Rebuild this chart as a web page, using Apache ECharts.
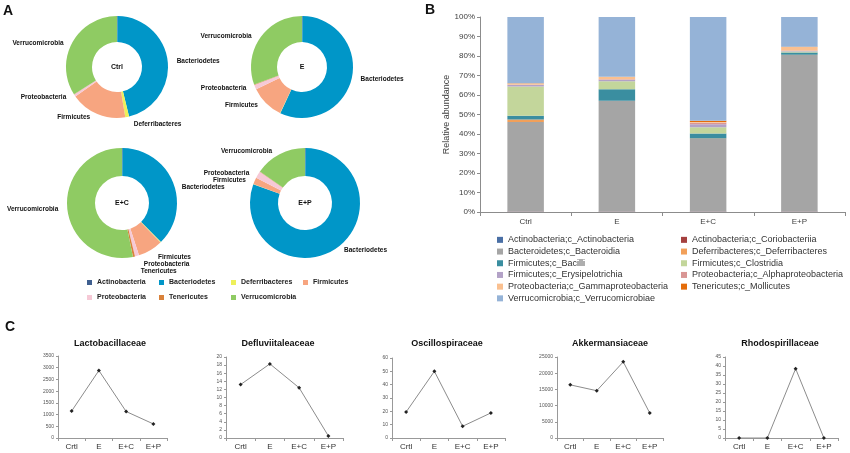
<!DOCTYPE html>
<html>
<head>
<meta charset="utf-8">
<script src="https://cdn.jsdelivr.net/npm/echarts@6/dist/echarts.min.js"></script>
<style>
html,body{margin:0;padding:0;background:#fff;}
#main{width:850px;height:453px;}
</style>
</head>
<body>
<div id="main"></div>
<script>
// ---------- Panel A data (phylum level, %) ----------
const pieGroups = ['Ctrl', 'E', 'E+C', 'E+P'];
const phyla = ['Actinobacteria', 'Bacteriodetes', 'Deferribacteres', 'Firmicutes', 'Proteobacteria', 'Tenericutes', 'Verrucomicrobia'];
const phylumColors = ['#3f5f8f', '#0096c8', '#eef05a', '#f7a580', '#f6c9d6', '#d9823b', '#8fcb63'];
const pieCtrl = [0.2, 46.0, 1.2, 17.8, 0.7, 0.1, 34.0];
const pieE = [0.2, 56.8, 0.1, 10.7, 1.5, 0.1, 30.6];
const pieEC = [0.2, 37.3, 0.2, 7.3, 1.2, 0.6, 53.2];
const pieEP = [0.2, 80.3, 0.1, 2.0, 2.0, 0.1, 15.3];

// ---------- Panel B data (class level, %) ----------
const barCategories = ['Ctrl', 'E', 'E+C', 'E+P'];
const classNames = [
  'Actinobacteria;c_Actinobacteria', 'Actinobacteria;c_Coriobacteriia',
  'Bacteroidetes;c_Bacteroidia', 'Deferribacteres;c_Deferribacteres',
  'Firmicutes;c_Bacilli', 'Firmicutes;c_Clostridia',
  'Firmicutes;c_Erysipelotrichia', 'Proteobacteria;c_Alphaproteobacteria',
  'Proteobacteria;c_Gammaproteobacteria', 'Tenericutes;c_Mollicutes',
  'Verrucomicrobia;c_Verrucomicrobiae'
];
const classColors = ['#4a6fa5', '#a5403f', '#a5a5a5', '#f2a05a', '#3a8ea0', '#c3d69b', '#b3a2c7', '#d99694', '#fac090', '#e46c0a', '#95b3d7'];
const cActinobacteria = [0.1, 0.1, 0.1, 0.1];
const cCoriobacteriia = [0.1, 0.1, 0.1, 0.1];
const cBacteroidia = [46.0, 56.8, 37.3, 80.3];
const cDeferribacteres = [1.2, 0.1, 0.2, 0.1];
const cBacilli = [2.0, 5.9, 2.5, 1.2];
const cClostridia = [15.0, 4.0, 3.3, 0.5];
const cErysipelotrichia = [0.8, 0.8, 1.5, 0.3];
const cAlphaproteobacteria = [0.1, 0.3, 0.8, 0.2];
const cGammaproteobacteria = [0.6, 1.2, 0.4, 1.8];
const cMollicutes = [0.1, 0.1, 0.6, 0.1];
const cVerrucomicrobiae = [34.0, 30.6, 53.2, 15.3];
const classValues = [cActinobacteria, cCoriobacteriia, cBacteroidia, cDeferribacteres, cBacilli, cClostridia,
  cErysipelotrichia, cAlphaproteobacteria, cGammaproteobacteria, cMollicutes, cVerrucomicrobiae];
const barTicks = [0, 10, 20, 30, 40, 50, 60, 70, 80, 90, 100];

// ---------- Panel C data (family level) ----------
const lineCategories = ['Crtl', 'E', 'E+C', 'E+P'];
const familyNames = ['Lactobacillaceae', 'Defluviitaleaceae', 'Oscillospiraceae', 'Akkermansiaceae', 'Rhodospirillaceae'];
const lactobacillaceae = [1150, 2880, 1130, 600];
const defluviitaleaceae = [13.2, 18.3, 12.4, 0.5];
const oscillospiraceae = [19.5, 50, 8.8, 18.8];
const akkermansiaceae = [16400, 14600, 23500, 7700];
const rhodospirillaceae = [0, 0, 38.5, 0];
const familyValues = [lactobacillaceae, defluviitaleaceae, oscillospiraceae, akkermansiaceae, rhodospirillaceae];
const familyMax = [3500, 20, 60, 25000, 45];
const familyInterval = [500, 2, 10, 5000, 5];

// ---------- layout ----------
const FONT = 'Liberation Sans, Arial, sans-serif';
const pieLayout = [
  { c: [117, 67], r: [25, 51] },
  { c: [302, 67], r: [25, 51] },
  { c: [122, 203], r: [27, 55] },
  { c: [305, 203], r: [27, 55] }
];
const lineGrids = [
  { left: 58, top: 356, width: 109, height: 82, tx: 110 },
  { left: 226, top: 357, width: 117, height: 81, tx: 278 },
  { left: 392, top: 358, width: 113, height: 80, tx: 447 },
  { left: 557, top: 357, width: 106, height: 81, tx: 610 },
  { left: 725, top: 357, width: 113, height: 81, tx: 780 }
];

const pieValues = [pieCtrl, pieE, pieEC, pieEP];
const series = [];
const graphics = [];

pieValues.forEach((vals, gi) => {
  series.push({
    type: 'pie',
    name: pieGroups[gi],
    center: pieLayout[gi].c,
    radius: pieLayout[gi].r,
    startAngle: 90,
    clockwise: true,
    minShowLabelAngle: 1.5,
    avoidLabelOverlap: false,
    bleedMargin: -60,
    labelLayout: { hideOverlap: false, moveOverlap: 'shiftY' },
    label: { show: true, position: 'outside', fontSize: 6.5, fontWeight: 'bold', color: '#111', fontFamily: FONT, formatter: '{b}', overflow: 'none' },
    labelLine: { show: false, length: 3, length2: 1 },
    emphasis: { disabled: true },
    data: phyla.map((p, i) => ({ name: p, value: vals[i], itemStyle: { color: phylumColors[i] } }))
  });
  graphics.push({
    type: 'text', x: pieLayout[gi].c[0], y: pieLayout[gi].c[1],
    style: { text: pieGroups[gi], font: 'bold 7px ' + FONT, fill: '#111', align: 'center', verticalAlign: 'middle' }
  });
});

const grids = [{ left: 480, top: 17, width: 365, height: 195 }];
const xAxes = [{
  type: 'category', gridIndex: 0, data: barCategories,
  axisLine: { lineStyle: { color: '#8c8c8c' } },
  axisTick: { show: true, length: 4, lineStyle: { color: '#8c8c8c' } },
  axisLabel: { fontSize: 8, color: '#404040', fontFamily: FONT, margin: 6 }
}];
const yAxes = [{
  type: 'value', gridIndex: 0, min: barTicks[0], max: barTicks[barTicks.length - 1], interval: barTicks[1] - barTicks[0],
  name: 'Relative abundance', nameLocation: 'middle', nameGap: 27,
  nameTextStyle: { fontSize: 9, color: '#404040', fontFamily: FONT },
  axisLine: { show: true, lineStyle: { color: '#8c8c8c' } },
  axisTick: { show: true, length: 3, lineStyle: { color: '#8c8c8c' } },
  splitLine: { show: false },
  axisLabel: { fontSize: 8, color: '#404040', fontFamily: FONT, formatter: '{value}%', margin: 5 }
}];

classNames.forEach((n, i) => {
  series.push({
    type: 'bar', name: n, stack: 'total', xAxisIndex: 0, yAxisIndex: 0,
    barWidth: '40%', data: classValues[i], itemStyle: { color: classColors[i] },
    emphasis: { disabled: true }
  });
});

lineGrids.forEach((g, k) => {
  const gi = k + 1;
  grids.push({ left: g.left, top: g.top, width: g.width, height: g.height });
  xAxes.push({
    type: 'category', gridIndex: gi, data: lineCategories,
    axisLine: { lineStyle: { color: '#999' } },
    axisTick: { show: true, length: 3, lineStyle: { color: '#999' } },
    axisLabel: { fontSize: 8, color: '#333', fontFamily: FONT, margin: 5 }
  });
  yAxes.push({
    type: 'value', gridIndex: gi, min: 0, max: familyMax[k], interval: familyInterval[k],
    axisLine: { show: true, lineStyle: { color: '#999' } },
    axisTick: { show: true, length: 2, lineStyle: { color: '#999' } },
    splitLine: { show: false },
    axisLabel: { fontSize: 5, color: '#555', fontFamily: FONT, margin: 4, formatter: v => String(v) }
  });
  series.push({
    type: 'line', name: familyNames[k], xAxisIndex: gi, yAxisIndex: gi,
    data: familyValues[k], symbol: 'diamond', symbolSize: 4,
    lineStyle: { color: '#8c8c8c', width: 1 }, itemStyle: { color: '#222' },
    emphasis: { disabled: true }
  });
  graphics.push({
    type: 'text', x: g.tx, y: 344,
    style: { text: familyNames[k], font: 'bold 9px ' + FONT, fill: '#111', align: 'center', verticalAlign: 'middle' }
  });
});

graphics.push(
  { type: 'text', x: 3, y: 11, style: { text: 'A', font: 'bold 14px ' + FONT, fill: '#111', align: 'left', verticalAlign: 'middle' } },
  { type: 'text', x: 425, y: 10, style: { text: 'B', font: 'bold 14px ' + FONT, fill: '#111', align: 'left', verticalAlign: 'middle' } },
  { type: 'text', x: 5, y: 327, style: { text: 'C', font: 'bold 14px ' + FONT, fill: '#111', align: 'left', verticalAlign: 'middle' } }
);

const option = {
  backgroundColor: '#fff',
  animation: false,
  textStyle: { fontFamily: FONT },
  grid: grids,
  xAxis: xAxes,
  yAxis: yAxes,
  legend: [
    {
      data: phyla, left: 87, top: 275, width: 300, orient: 'horizontal', padding: 0,
      itemWidth: 5, itemHeight: 5, itemGap: 0, icon: 'rect', selectedMode: false,
      textStyle: { fontSize: 7, fontWeight: 'bold', color: '#222', width: 62, lineHeight: 15, fontFamily: FONT }
    },
    {
      data: classNames, left: 497, top: 234, width: 372, orient: 'horizontal', padding: 0,
      itemWidth: 6, itemHeight: 6, itemGap: 0, icon: 'rect', selectedMode: false,
      textStyle: { fontSize: 9, color: '#333', width: 173, lineHeight: 11.7, fontFamily: FONT }
    }
  ],
  graphic: graphics,
  series: series
};

const chart = echarts.init(document.getElementById('main'), null, { renderer: 'canvas' });
chart.setOption(option);
</script>
</body>
</html>
